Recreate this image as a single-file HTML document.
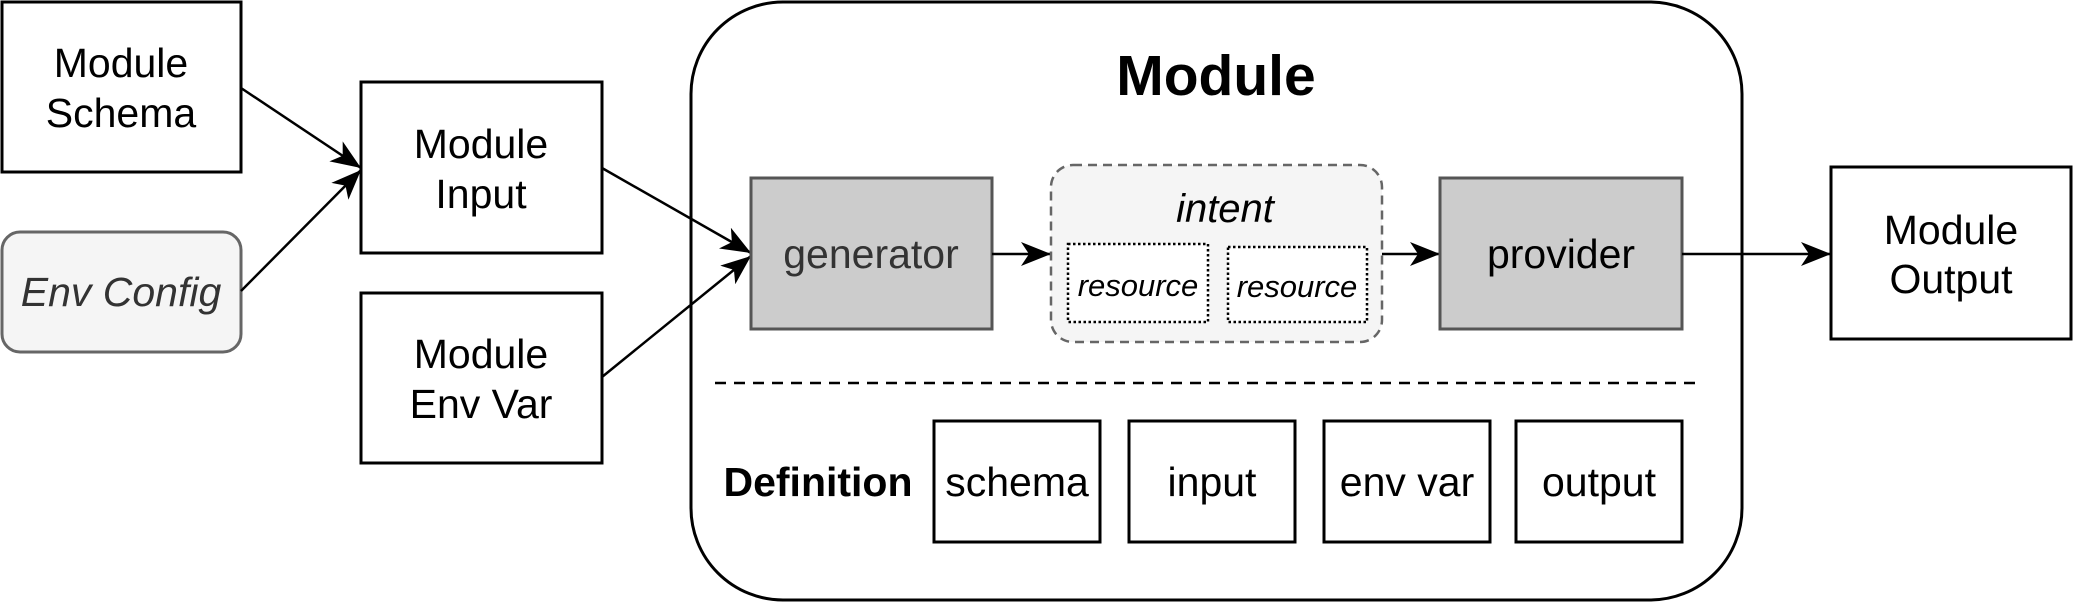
<!DOCTYPE html>
<html><head><meta charset="utf-8"><style>
html,body{margin:0;padding:0;background:#fff;}
svg{display:block;}
text{font-family:"Liberation Sans",Arial,sans-serif;}
</style></head><body>
<svg width="2073" height="603" viewBox="0 0 2073 603" xmlns="http://www.w3.org/2000/svg">
<defs>
<marker id="ah" markerUnits="userSpaceOnUse" markerWidth="32" markerHeight="28" refX="30" refY="14" orient="auto">
<path d="M30,14 L0,2 L8,14 L0,26 Z" fill="#000"/>
</marker>
</defs>
<!-- container -->
<rect x="691" y="2" width="1051" height="598" rx="92" ry="92" fill="#fff" stroke="#000" stroke-width="3"/>
<text x="1216" y="95" font-size="57" font-weight="bold" text-anchor="middle">Module</text>

<!-- left boxes -->
<rect x="2" y="2" width="239" height="170" fill="#fff" stroke="#000" stroke-width="3"/>
<text x="121" y="77" font-size="41" text-anchor="middle">Module</text>
<text x="121" y="127" font-size="41" text-anchor="middle">Schema</text>

<rect x="2" y="232" width="239" height="120" rx="18" ry="18" fill="#f5f5f5" stroke="#666" stroke-width="3"/>
<text x="121" y="306" font-size="41" font-style="italic" fill="#333" text-anchor="middle">Env Config</text>

<rect x="361" y="82" width="241" height="171" fill="#fff" stroke="#000" stroke-width="3"/>
<text x="481" y="158" font-size="41" text-anchor="middle">Module</text>
<text x="481" y="208" font-size="41" text-anchor="middle">Input</text>

<rect x="361" y="293" width="241" height="170" fill="#fff" stroke="#000" stroke-width="3"/>
<text x="481" y="368" font-size="41" text-anchor="middle">Module</text>
<text x="481" y="418" font-size="41" text-anchor="middle">Env Var</text>

<!-- arrows left -->
<line x1="241" y1="88" x2="361" y2="168" stroke="#000" stroke-width="2.5" marker-end="url(#ah)"/>
<line x1="241" y1="291" x2="361" y2="170" stroke="#000" stroke-width="2.5" marker-end="url(#ah)"/>
<line x1="602" y1="168" x2="751" y2="253" stroke="#000" stroke-width="2.5" marker-end="url(#ah)"/>
<line x1="602" y1="377" x2="751" y2="256" stroke="#000" stroke-width="2.5" marker-end="url(#ah)"/>

<!-- generator -->
<rect x="751" y="178" width="241" height="151" fill="#ccc" stroke="#555" stroke-width="3"/>
<text x="871" y="268" font-size="41" fill="#333" text-anchor="middle">generator</text>

<line x1="992" y1="254" x2="1051" y2="254" stroke="#000" stroke-width="2.5" marker-end="url(#ah)"/>

<!-- intent -->
<rect x="1051" y="165" width="331" height="177" rx="22" ry="22" fill="#f5f5f5" stroke="#666" stroke-width="2.5" stroke-dasharray="9 6"/>
<text x="1225" y="222" font-size="40" font-style="italic" text-anchor="middle">intent</text>
<rect x="1068" y="244" width="140" height="78" fill="#fff" stroke="#000" stroke-width="2.5" stroke-dasharray="2.5 2.5"/>
<text x="1138" y="296" font-size="31" font-style="italic" text-anchor="middle">resource</text>
<rect x="1228" y="247" width="139" height="75" fill="#fff" stroke="#000" stroke-width="2.5" stroke-dasharray="2.5 2.5"/>
<text x="1297" y="297" font-size="31" font-style="italic" text-anchor="middle">resource</text>

<line x1="1382" y1="254" x2="1440" y2="254" stroke="#000" stroke-width="2.5" marker-end="url(#ah)"/>

<!-- provider -->
<rect x="1440" y="178" width="242" height="151" fill="#ccc" stroke="#555" stroke-width="3"/>
<text x="1561" y="268" font-size="41" text-anchor="middle">provider</text>

<line x1="1682" y1="254" x2="1831" y2="254" stroke="#000" stroke-width="2.5" marker-end="url(#ah)"/>

<!-- output -->
<rect x="1831" y="167" width="240" height="172" fill="#fff" stroke="#000" stroke-width="3"/>
<text x="1951" y="244" font-size="41" text-anchor="middle">Module</text>
<text x="1951" y="293" font-size="41" text-anchor="middle">Output</text>

<!-- dashed separator -->
<line x1="715" y1="383" x2="1697" y2="383" stroke="#000" stroke-width="2.5" stroke-dasharray="11 8"/>

<!-- definition -->
<text x="818" y="496" font-size="41" font-weight="bold" text-anchor="middle">Definition</text>
<rect x="934" y="421" width="166" height="121" fill="#fff" stroke="#000" stroke-width="3"/>
<text x="1017" y="496" font-size="41" text-anchor="middle">schema</text>
<rect x="1129" y="421" width="166" height="121" fill="#fff" stroke="#000" stroke-width="3"/>
<text x="1212" y="496" font-size="41" text-anchor="middle">input</text>
<rect x="1324" y="421" width="166" height="121" fill="#fff" stroke="#000" stroke-width="3"/>
<text x="1407" y="496" font-size="41" text-anchor="middle">env var</text>
<rect x="1516" y="421" width="166" height="121" fill="#fff" stroke="#000" stroke-width="3"/>
<text x="1599" y="496" font-size="41" text-anchor="middle">output</text>
</svg>
</body></html>
